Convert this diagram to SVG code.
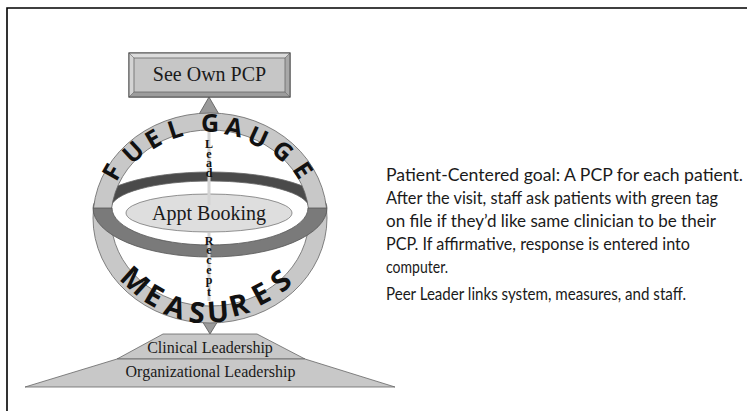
<svg xmlns="http://www.w3.org/2000/svg" width="747" height="411" viewBox="0 0 747 411">
<style>
.serif{font-family:"Liberation Serif","Times New Roman",serif;fill:#1a1a1a}
.gauge{font-family:"Open Sans","DejaVu Sans",sans-serif;font-weight:700;font-size:25px;fill:#111;text-anchor:middle}
.meas{font-family:"Open Sans","DejaVu Sans",sans-serif;font-weight:700;font-size:29px;fill:#111;text-anchor:middle}
.vert{font-family:"Liberation Serif","Times New Roman",serif;font-weight:700;font-size:12px;fill:#111;text-anchor:middle}
.body{font-family:Lato,"Open Sans","Liberation Sans",sans-serif;font-size:16.5px;fill:#1a1a1a}
.shape{stroke:#666;stroke-width:0.8}
</style>
<rect width="747" height="411" fill="#fff"/>
<path d="M7 411 V8 H747" fill="none" stroke="#000" stroke-width="1.6"/>

<g id="connectors">
  <polygon points="209,97 198,116 220,116" fill="#9a9a9a" stroke="#555" stroke-width="0.8"/>
  <polygon points="199,316 221,316 210,334" fill="#9a9a9a" stroke="#555" stroke-width="0.8"/>
</g>

<g id="see-own-pcp">
  <rect x="129" y="53" width="161" height="44" fill="#c6c6c6" stroke="#555" stroke-width="1"/>
  <polygon points="129,53 290,53 285,58 134,58" fill="#dcdcdc"/>
  <polygon points="129,53 134,58 134,92 129,97" fill="#d4d4d4"/>
  <polygon points="290,53 290,97 285,92 285,58" fill="#a8a8a8"/>
  <polygon points="129,97 290,97 285,92 134,92" fill="#9c9c9c"/>
  <rect x="134" y="58" width="151" height="34" fill="#c6c6c6" stroke="#666" stroke-width="0.8"/>
  <path d="M129 53 L134 58 M290 53 L285 58 M129 97 L134 92 M290 97 L285 92" stroke="#666" stroke-width="0.6"/>
  <rect x="129" y="53" width="161" height="44" fill="none" stroke="#555" stroke-width="1"/>
  <text class="serif" x="209.5" y="81" font-size="20" text-anchor="middle">See Own PCP</text>
</g>

<g id="fuel-gauge">
  <path d="M93 208 A117 36 0 0 1 327 208 L309 208 A99 27 0 0 0 111 208 Z" fill="#4a4a4a" class="shape"/>
  <path fill-rule="evenodd" d="M93 218 A117 105 0 1 1 327 218 A117 105 0 1 1 93 218 Z M111 218 A99 88 0 1 0 309 218 A99 88 0 1 0 111 218 Z" fill="#c8c8c8" class="shape"/>
  <path d="M93 208 A117 49 0 0 0 327 208 L308 208 A98 37 0 0 1 112 208 Z" fill="#7a7a7a" stroke="#555" stroke-width="0.8"/>
  <g>
    <text class="gauge" transform="translate(112,172) rotate(-60)" y="9">F</text>
    <text class="gauge" transform="translate(133,152) rotate(-43)" y="9">U</text>
    <text class="gauge" transform="translate(153,139) rotate(-30)" y="9">E</text>
    <text class="gauge" transform="translate(175,129) rotate(-18)" y="9">L</text>
    <text class="gauge" transform="translate(210,123) rotate(0)" y="9">G</text>
    <text class="gauge" transform="translate(234,127) rotate(12)" y="9">A</text>
    <text class="gauge" transform="translate(258,137) rotate(25)" y="9">U</text>
    <text class="gauge" transform="translate(283,151) rotate(41)" y="9">G</text>
    <text class="gauge" transform="translate(303,170) rotate(57)" y="9">E</text>
  </g>
  <g>
    <text class="meas" transform="translate(135,281) rotate(42)" y="10">M</text>
    <text class="meas" transform="translate(154,296) rotate(30)" y="10">E</text>
    <text class="meas" transform="translate(175,307) rotate(18)" y="10">A</text>
    <text class="meas" transform="translate(197,313) rotate(6)" y="10">S</text>
    <text class="meas" transform="translate(218,312) rotate(-4)" y="10">U</text>
    <text class="meas" transform="translate(239,305) rotate(-15)" y="10">R</text>
    <text class="meas" transform="translate(261,294) rotate(-28)" y="10">E</text>
    <text class="meas" transform="translate(281,281) rotate(-42)" y="10">S</text>
  </g>
</g>

<g id="appt-booking">
  <ellipse cx="209" cy="213" rx="83" ry="19" fill="#dedede" stroke="#777" stroke-width="0.8"/>
  <text class="serif" x="209" y="220" font-size="20" text-anchor="middle">Appt Booking</text>
</g>

<g id="lead">
  <rect x="207.5" y="132" width="3" height="73" fill="#d4d4d4"/>
  <text class="vert"><tspan x="209" y="148">L</tspan><tspan x="209" y="158">e</tspan><tspan x="209" y="167">a</tspan><tspan x="209" y="177">d</tspan></text>
</g>

<g id="recept">
  <rect x="207.5" y="233" width="3" height="68" fill="#d4d4d4"/>
  <text class="vert"><tspan x="209" y="245">R</tspan><tspan x="209" y="254">e</tspan><tspan x="209" y="264">c</tspan><tspan x="209" y="274">e</tspan><tspan x="209" y="284">p</tspan><tspan x="209" y="296">t</tspan></text>
</g>

<g id="clinical-leadership">
  <polygon points="163,334 257,334 305,359 117,359" fill="#c8c8c8" class="shape"/>
  <text class="serif" x="210" y="353" font-size="16" text-anchor="middle">Clinical Leadership</text>
</g>

<g id="organizational-leadership">
  <polygon points="117,359 305,359 395,387 25,387" fill="#c8c8c8" class="shape"/>
  <text class="serif" x="210.5" y="377" font-size="16" text-anchor="middle">Organizational Leadership</text>
</g>

<g id="notes">
  <text class="body" x="386" y="181" textLength="357" lengthAdjust="spacingAndGlyphs">Patient-Centered goal: A PCP for each patient.</text>
  <text class="body" x="386" y="204" textLength="332" lengthAdjust="spacingAndGlyphs">After the visit, staff ask patients with green tag</text>
  <text class="body" x="386" y="227" textLength="330" lengthAdjust="spacingAndGlyphs">on file if they’d like same clinician to be their</text>
  <text class="body" x="386" y="250" textLength="304" lengthAdjust="spacingAndGlyphs">PCP. If affirmative, response is entered into</text>
  <text class="body" x="386" y="273" textLength="62" lengthAdjust="spacingAndGlyphs">computer.</text>
  <text class="body" x="386" y="300" textLength="300" lengthAdjust="spacingAndGlyphs">Peer Leader links system, measures, and staff.</text>
</g>
</svg>
